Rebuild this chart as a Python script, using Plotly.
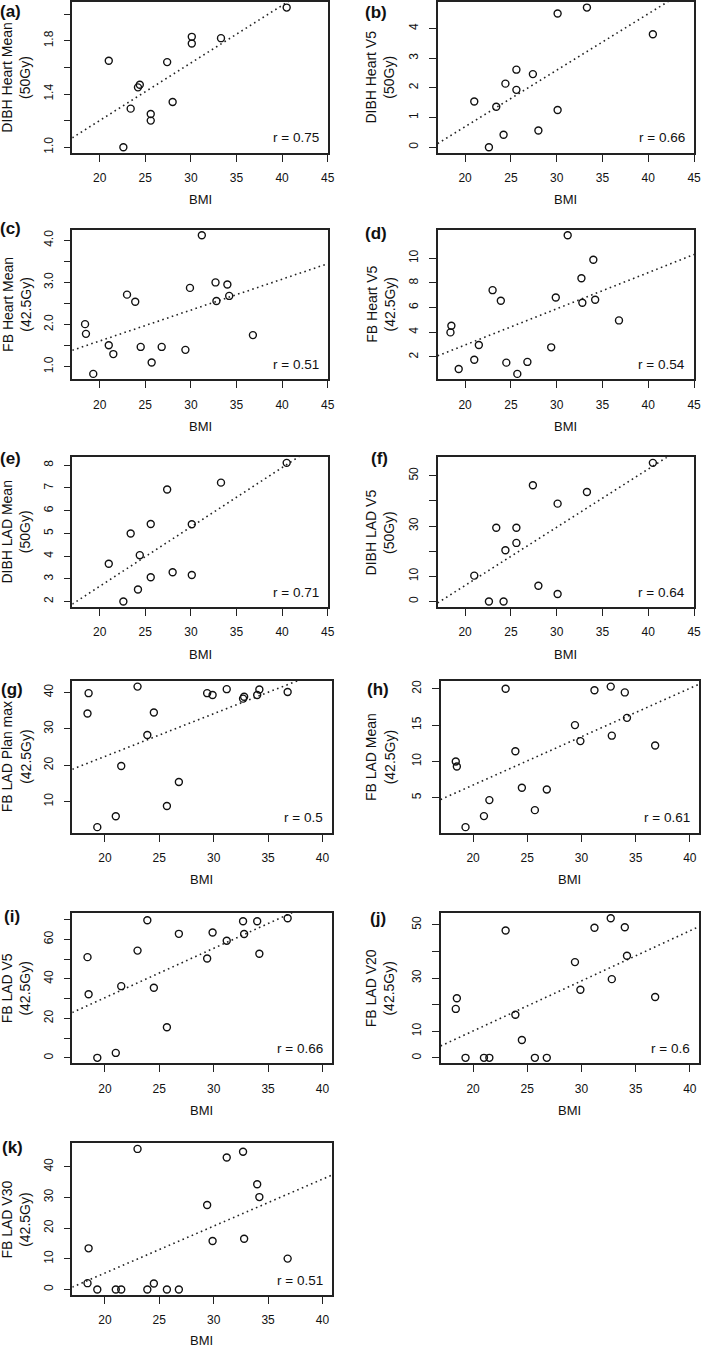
import numpy as np
import plotly.graph_objects as go

# ---------------- data ----------------
bmi_dibh = [21.0, 22.6, 23.4, 24.2, 24.4, 25.6, 25.6, 27.4, 28.0, 30.1, 30.1, 33.3, 40.5]
bmi_fb = [18.4, 18.5, 19.3, 21.0, 21.5, 23.0, 23.9, 24.5, 25.7, 26.8,
          29.4, 29.9, 31.2, 32.7, 32.8, 34.0, 34.2, 36.8]

dibh_heart_mean = [1.65, 1.00, 1.29, 1.45, 1.47, 1.25, 1.20, 1.64, 1.34, 1.83, 1.78, 1.82, 2.05]
dibh_heart_v5 = [1.54, 0.00, 1.36, 0.42, 2.14, 2.61, 1.93, 2.46, 0.56, 4.50, 1.25, 4.70, 3.80]
dibh_lad_mean = [3.66, 2.00, 4.99, 2.53, 4.04, 5.41, 3.07, 6.93, 3.29, 5.40, 3.17, 7.23, 8.10]
dibh_lad_v5 = [10.3, 0.0, 29.3, 0.0, 20.4, 29.3, 23.3, 46.2, 6.3, 38.9, 3.0, 43.5, 55.1]

fb_heart_mean = [2.01, 1.78, 0.83, 1.51, 1.30, 2.71, 2.54, 1.47, 1.10, 1.47,
                 1.40, 2.87, 4.12, 3.00, 2.56, 2.95, 2.68, 1.75]
fb_heart_v5 = [3.99, 4.53, 1.03, 1.78, 2.97, 7.41, 6.55, 1.54, 0.63, 1.60,
               2.78, 6.82, 11.86, 8.38, 6.39, 9.87, 6.63, 4.96]
fb_lad_planmax = [34.2, 39.8, 3.0, 6.0, 19.8, 41.6, 28.3, 34.5, 8.8, 15.4,
                  39.8, 39.3, 40.9, 38.3, 38.8, 39.3, 40.8, 40.1]
fb_lad_mean = [10.0, 9.3, 0.96, 2.48, 4.68, 20.0, 11.4, 6.38, 3.30, 6.15,
               15.0, 12.8, 19.8, 20.3, 13.55, 19.5, 16.0, 12.2]
fb_lad_v5 = [51.0, 32.2, 0.0, 2.5, 36.3, 54.3, 69.7, 35.5, 15.5, 62.8,
             50.3, 63.5, 59.3, 69.2, 62.7, 69.2, 52.7, 70.7]
fb_lad_v20 = [18.4, 22.4, 0.0, 0.0, 0.0, 47.9, 16.2, 6.7, 0.0, 0.0,
              36.0, 25.6, 48.9, 52.5, 29.6, 49.1, 38.4, 22.9]
fb_lad_v30 = [2.05, 13.4, 0.0, 0.0, 0.0, 45.8, 0.0, 1.95, 0.0, 0.0,
              27.5, 15.8, 43.0, 44.9, 16.5, 34.3, 30.1, 10.05]

panel_letters = ["a", "b", "c", "d", "e", "f", "g", "h", "i", "j", "k"]
y_titles = ["DIBH Heart Mean<br>(50Gy)", "DIBH Heart V5<br>(50Gy)",
            "FB Heart Mean<br>(42.5Gy)", "FB Heart V5<br>(42.5Gy)",
            "DIBH LAD Mean<br>(50Gy)", "DIBH LAD V5<br>(50Gy)",
            "FB LAD Plan max<br>(42.5Gy)", "FB LAD Mean<br>(42.5Gy)",
            "FB LAD V5<br>(42.5Gy)", "FB LAD V20<br>(42.5Gy)",
            "FB LAD V30<br>(42.5Gy)"]
r_labels = ["r = 0.75", "r = 0.66", "r = 0.51", "r = 0.54", "r = 0.71", "r = 0.64",
            "r = 0.5", "r = 0.61", "r = 0.66", "r = 0.6", "r = 0.51"]

y_tickvals = [
    [1.0, 1.2, 1.4, 1.6, 1.8, 2.0],
    [0, 1, 2, 3, 4],
    [1.0, 1.5, 2.0, 2.5, 3.0, 3.5, 4.0],
    [2, 4, 6, 8, 10],
    [2, 3, 4, 5, 6, 7, 8],
    [0, 10, 20, 30, 40, 50],
    [10, 20, 30, 40],
    [5, 10, 15, 20],
    [0, 10, 20, 30, 40, 50, 60, 70],
    [0, 10, 20, 30, 40, 50],
    [0, 10, 20, 30, 40],
]
y_ticktext = [
    ["1.0", "", "1.4", "", "1.8", ""],
    ["0", "1", "2", "3", "4"],
    ["1.0", "", "2.0", "", "3.0", "", "4.0"],
    ["2", "4", "6", "8", "10"],
    ["2", "3", "4", "5", "6", "7", "8"],
    ["0", "10", "", "30", "", "50"],
    ["10", "20", "30", "40"],
    ["5", "10", "15", "20"],
    ["0", "", "20", "", "40", "", "60", ""],
    ["0", "10", "", "30", "", "50"],
    ["0", "10", "20", "30", "40"],
]
x_ticks_wide = [20, 25, 30, 35, 40, 45]
x_ticks_narrow = [20, 25, 30, 35, 40]
x_range_wide = [17.0, 45.0]
x_range_narrow = [17.0, 40.85]

xs = [bmi_dibh, bmi_dibh, bmi_fb, bmi_fb, bmi_dibh, bmi_dibh,
      bmi_fb, bmi_fb, bmi_fb, bmi_fb, bmi_fb]
ys = [dibh_heart_mean, dibh_heart_v5, fb_heart_mean, fb_heart_v5,
      dibh_lad_mean, dibh_lad_v5, fb_lad_planmax, fb_lad_mean,
      fb_lad_v5, fb_lad_v20, fb_lad_v30]

# ---------------- layout geometry (pixels) ----------------
W, H = 709, 1349
# plot boxes: (left, right, top, bottom)
boxes = [
    (73, 331, 1, 152), (442, 701, 1, 152),
    (73, 331, 229, 379), (442, 701, 229, 379),
    (73, 331, 457, 607), (442, 701, 457, 607),
    (73, 335, 681, 833), (445, 706, 681, 833),
    (73, 335, 913, 1064), (445, 706, 913, 1064),
    (73, 335, 1144, 1296),
]
bmi_offsets = [47, 47, 47, 47, 47, 47, 47, 47, 47, 47, 45]
letter_pos = [(11, 11), (380, 12), (11, 228), (380, 233), (11, 458), (383, 458),
              (12, 690), (382, 690), (12, 917), (382, 919), (13, 1148)]

FONT = "Liberation Sans, Arial, sans-serif"
INK = "#111111"
LINE = "#222222"

fig = go.Figure()
layout = dict(
    width=W, height=H, margin=dict(l=0, r=0, t=0, b=0),
    paper_bgcolor="white", plot_bgcolor="white", showlegend=False,
    font=dict(family=FONT, color=INK),
)
annotations = []

def pxx(p):
    return p / W

def pxy(p):
    return 1 - p / H

for i in range(11):
    n = i + 1
    sid = "" if n == 1 else str(n)
    x = np.array(xs[i], dtype=float)
    y = np.array(ys[i], dtype=float)
    wide = i < 6
    xr = x_range_wide if wide else x_range_narrow
    xt = x_ticks_wide if wide else x_ticks_narrow
    ypad = 0.04 * (y.max() - y.min())
    yr = [y.min() - ypad, y.max() + ypad]

    slope, intercept = np.polyfit(x, y, 1)
    lx = np.array(xr)
    ly = intercept + slope * lx

    fig.add_trace(go.Scatter(
        x=lx, y=ly, mode="lines", xaxis="x" + sid, yaxis="y" + sid,
        line=dict(color=LINE, width=1.6, dash="1.6px,3.4px"), hoverinfo="skip"))
    fig.add_trace(go.Scatter(
        x=x, y=y, mode="markers", xaxis="x" + sid, yaxis="y" + sid,
        marker=dict(symbol="circle-open", size=7, color=INK,
                    line=dict(width=1.4, color=INK))))

    l, r, t, b = boxes[i]
    common = dict(showline=True, linecolor=LINE, linewidth=1.5, mirror=True,
                  ticks="outside", ticklen=7, tickwidth=1.2, tickcolor=LINE,
                  showgrid=False, zeroline=False, ticklabeloverflow="allow",
                  tickfont=dict(size=12, family=FONT, color=INK))
    layout["xaxis" + sid] = dict(
        common, domain=[pxx(l), pxx(r)], anchor="y" + sid, range=xr,
        tickvals=xt, ticktext=[str(v) for v in xt], ticklabelstandoff=6)
    layout["yaxis" + sid] = dict(
        common, domain=[pxy(b), pxy(t)], anchor="x" + sid, range=yr,
        tickvals=y_tickvals[i], ticktext=y_ticktext[i], tickangle=-90,
        ticklabelstandoff=6)

    # r annotation
    annotations.append(dict(
        text=r_labels[i], xref="x" + sid + " domain", yref="y" + sid + " domain",
        x=1, y=0, xanchor="right", yanchor="middle", xshift=-7, yshift=15,
        showarrow=False, font=dict(size=13.5, family=FONT, color=INK)))
    # x title
    annotations.append(dict(
        text="BMI", xref="x" + sid + " domain", yref="paper",
        x=0.5, y=pxy(b + bmi_offsets[i]), xanchor="center", yanchor="middle",
        showarrow=False, font=dict(size=13, family=FONT, color=INK)))
    # y title
    ycx = 16.5 if l < 200 else 384
    annotations.append(dict(
        text=y_titles[i], xref="paper", yref="paper",
        x=pxx(ycx), y=pxy((t + b) / 2), xanchor="center", yanchor="middle",
        textangle=-90, showarrow=False,
        font=dict(size=14, family=FONT, color=INK)))
    # panel letter
    lx_, ly_ = letter_pos[i]
    annotations.append(dict(
        text="<b>(" + panel_letters[i] + ")</b>", xref="paper", yref="paper",
        x=pxx(lx_), y=pxy(ly_), xanchor="center", yanchor="middle",
        showarrow=False, font=dict(size=17, family=FONT, color=INK)))

layout["annotations"] = annotations
fig.update_layout(**layout)
fig.write_html(
    "out.html",
    config={"displayModeBar": False},
    post_script="document.body.style.margin='0px';document.body.style.padding='0px';"
                "document.documentElement.style.overflow='hidden';",
)
